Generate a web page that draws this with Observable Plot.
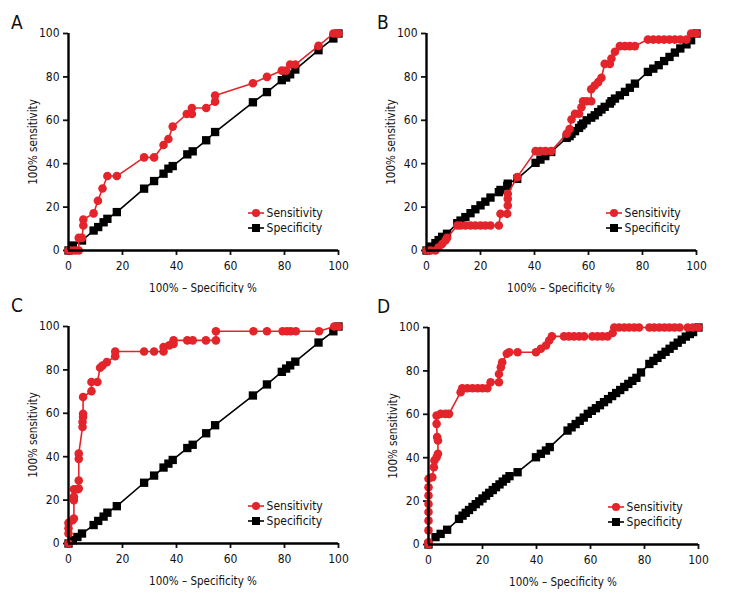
<!DOCTYPE html>
<html><head><meta charset="utf-8">
<script src="https://cdn.jsdelivr.net/npm/d3@7"></script>
<script src="https://cdn.jsdelivr.net/npm/@observablehq/plot@0.6"></script>
<style>
body{margin:0;background:#fff;}
#root{position:relative;width:732px;height:612px;overflow:hidden;font-family:"Liberation Sans Narrow","DejaVu Sans Condensed","Roboto Condensed",Roboto,sans-serif;color:#111;}
.panel{position:absolute;}
.letter{position:absolute;font-size:19px;line-height:19px;}
.ytitle{position:absolute;width:140px;text-align:center;font-size:11.5px;line-height:14px;transform:rotate(-90deg);white-space:nowrap;}
.xtitle{position:absolute;width:270px;text-align:center;font-size:11.5px;line-height:14px;white-space:nowrap;}
.leg{position:absolute;font-size:12px;line-height:14px;white-space:nowrap;display:flex;align-items:center;}
.leg svg{margin-right:3px;}
</style>
</head><body>
<div id="root"></div>
<script>
// ---- Data ----
const panelLabels = ["A", "B", "C", "D"];
const xTicks = [0, 20, 40, 60, 80, 100];
const yTicks = [0, 20, 40, 60, 80, 100];
const xTitle = "100% \u2013 Specificity %";
const yTitle = "100% sensitivity";
const seriesNames = ["Sensitivity", "Specificity"];

// Panel A
const aSensX = [0,1.2,2.5,3.8,3.8,5,5.5,5.5,9.3,10.9,12.6,14.4,17.9,28,31.7,35.2,37,38.6,43.8,45.7,45.7,51,54.3,54.3,68.3,73.5,79,80.6,82.1,84,92.6,98.1,99.4,100];
const aSensY = [0,0,0,0,5.8,5.8,11.5,14.3,17.1,22.9,28.6,34.3,34.3,42.9,42.9,48.6,51.4,57.1,62.9,62.9,65.7,65.7,68.6,71.4,77.1,80,82.9,82.9,85.7,85.7,94.3,100,100,100];
const aSpecX = [0,1.6,5,9.3,11,13,14.4,17.9,28,31.7,35.2,37,38.6,44,46,51,54.3,68.3,73.5,79,80.6,82.1,84,92.6,98.1,100];
const aSpecY = [0,2.3,4.6,9.2,10.8,13,14.6,17.7,28.5,32,35.4,37.7,38.9,44.3,45.7,50.8,54.6,68.3,73,78.5,79.7,81.2,83.4,92.3,97.7,100];

// Panel B
const bSensX = [0,1.5,3.3,4.5,5.8,7,7.6,11.4,12.6,14.4,16.3,18.1,20,21.8,23.7,26.8,27.4,29.9,30.1,30.1,30.1,33.6,40.4,42.2,44,46.2,51.9,53,53.7,55,56.5,57.4,58,59.3,61,61,62.3,63.6,64.8,66,67.9,68.5,69.8,71.6,73.5,75.3,77.2,82,84,86,88,90,92,94,96.3,98,100];
const bSensY = [0,0,0,1.5,3,4.6,5.8,11.5,11.5,11.5,11.5,11.5,11.5,11.5,11.5,11.5,16.9,16.9,20.7,23.8,26.1,33.8,45.8,45.8,45.8,45.8,53.8,56,60.4,63,63,66,68.8,68.8,68.8,74.3,76,77.6,79.6,86,86,88.5,91.6,94.2,94.2,94.2,94.2,97.2,97.2,97.2,97.2,97.2,97.2,97.2,97.2,100,100];
const bSpecX = [0,1.5,3.3,4.5,5.8,7.6,11.4,12.6,14.4,16.3,18.1,20,21.8,23.7,26.8,27.4,29.9,30.1,33.6,40.4,42.2,44,46.2,51.9,53,53.7,55,56.5,57.4,58,59.3,61,62.3,63.6,64.8,66,67.9,68.5,69.8,71.6,73.5,75.3,77.2,82,84,86,88,90,92,94,96.3,98,100];
const bSpecY = [0,1.8,3.4,4.8,6.3,7.7,12.6,13.8,15.4,17.2,19,20.8,22.5,24.4,26.9,27.9,29.7,30.8,33,40.4,41.9,43.5,45.4,51.9,52.7,53.8,55,56.5,57.7,58.5,60,61.2,62.3,63.8,65,66.2,67.7,68.8,70,71.5,73.1,75,76.9,82.3,83.8,85.4,87.3,89.2,91.2,93.1,95,96.9,100];

// Panel C
const cSensX = [0,0,0,0,1.5,2,2,2,2,3.3,3.8,3.8,3.8,3.8,5.2,5.2,5.4,5.4,5.4,8.5,8.5,10.7,11.7,12.6,14.2,17.3,17.3,28,31.7,35.2,35.2,37.3,38.9,38.9,44,46,50.9,54.6,54.6,68.5,73.5,79.3,80.9,82.3,84.2,92.8,98.4,100];
const cSensY = [0,4.6,7,9.5,10.7,11.5,20,21.5,25,25,25.3,29,39,41.4,53.7,56,58.3,59.8,67.5,70.2,74.4,74.4,81,82,83.6,86.3,88.5,88.5,88.5,88.5,90.5,91.3,92,93.6,93.6,93.6,93.6,93.6,97.8,97.8,97.8,97.8,97.8,97.8,97.8,97.8,100,100];
const cSpecX = [0,1.6,3.3,5,9.3,11,13,14.4,17.9,28,31.7,35.2,37,38.6,44,46,51,54.3,68.3,73.5,79,80.6,82.1,84,92.6,98.1,100];
const cSpecY = [0,1.5,3,4.6,8.5,10.4,12.4,14.2,17.2,28,31.3,35,36.8,38.5,44,45.5,50.8,54.5,68.2,73.3,79.1,80.6,82.1,83.8,92.6,97.8,100];

// Panel D
const dSensX = [0,0,0,0,0,0,0,0,0,1.4,2,2.2,3,3.5,3.5,3.2,3,3,4.5,6.3,7.6,11.9,12.5,14.4,16.3,18.2,20,21.8,23,26.1,26.1,26.8,27.3,29,29.9,33,39.8,41.6,43.5,44.7,45.7,50.2,52,53.9,55.8,57.6,60.7,62.6,64.4,66.3,68.2,68.8,70.6,72.5,74.3,76.2,78,81.8,83.6,85.5,87.4,89.2,91.1,93,96,97.9,100];
const dSensY = [0,1,6.5,11,15,18.7,22.6,26.4,30.3,31,35.6,38.7,40.2,41.8,47.9,49.5,55.6,59.4,60.2,60.2,60.2,70.2,72,72,72,72,72,72,74.8,74.8,78.6,81.7,84,87.9,88.6,88.6,88.6,90.2,91.7,94,95.9,95.9,95.9,95.9,95.9,95.9,95.9,95.9,95.9,95.9,97.5,100,100,100,100,100,100,100,100,100,100,100,100,100,100,100,100];
const dSpecX = [0,2.6,4.5,6.9,11.3,12.6,13.8,15,16.3,17.5,18.8,20,21.3,22.5,23.8,25,26.3,27.5,28.8,30,33,39.8,41.6,43.5,44.9,51.5,53,54.5,56,57.5,59,60.5,62,63.5,65,66.5,68,69.5,71,72.5,74,75.5,77,78.7,81.8,83.3,84.8,86.3,87.8,89.3,90.8,92.3,93.8,95.3,96.8,98,100];
const dSpecY = [0,3.4,4.9,6.8,11.8,13.3,14.6,15.9,17.3,18.6,19.9,21.2,22.5,23.8,25.1,26.4,27.7,29,30.3,31.5,33.3,40.2,41.8,43.3,44.9,52.5,54,55.5,57,58.5,60.2,61.6,62.8,64.2,65.6,67,68.4,69.8,71.2,72.6,74,75.4,76.8,79.3,83.2,84.6,86,87.4,88.8,90.2,91.6,93,94.4,95.8,97,97.9,100];

// ---- Layout (px) ----
const panels = [
  {label: panelLabels[0], sx: aSensX, sy: aSensY, kx: aSpecX, ky: aSpecY, left: 0,   top: 0,   ml: 68, mr: 28},
  {label: panelLabels[1], sx: bSensX, sy: bSensY, kx: bSpecX, ky: bSpecY, left: 366, top: 0,   ml: 60, mr: 36},
  {label: panelLabels[2], sx: cSensX, sy: cSensY, kx: cSpecX, ky: cSpecY, left: 0,   top: 293, ml: 68, mr: 28},
  {label: panelLabels[3], sx: dSensX, sy: dSensY, kx: dSpecX, ky: dSpecY, left: 366, top: 294, ml: 62, mr: 34}
];
const RED = "#e3242b";
const MT = 33, MB = 50, H = 300, W = 366;
const root = document.getElementById("root");

function el(cls, html, css) {
  const d = document.createElement("div");
  d.className = cls; d.innerHTML = html;
  Object.assign(d.style, css);
  root.appendChild(d);
  return d;
}

for (const p of panels) {
  const sens = p.sx.map((x, i) => ({x, y: p.sy[i]}));
  const spec = p.kx.map((x, i) => ({x, y: p.ky[i]}));
  const chart = Plot.plot({
    width: W, height: H,
    marginLeft: p.ml, marginRight: p.mr, marginTop: MT, marginBottom: MB,
    style: {fontFamily: "'Liberation Sans Narrow','DejaVu Sans Condensed',Roboto,sans-serif", fontSize: "11.5px", color: "#111", background: "white"},
    x: {domain: [0, 100]},
    y: {domain: [0, 100]},
    marks: [
      Plot.axisX({ticks: xTicks, tickSize: 5, tickPadding: 6, strokeWidth: 1.8, label: null, fontSize: 12}),
      Plot.axisY({ticks: yTicks, tickSize: 5, tickPadding: 4, strokeWidth: 1.8, label: null, fontSize: 12}),
      Plot.line(spec, {x: "x", y: "y", stroke: "#000", strokeWidth: 1.6}),
      Plot.dot(spec, {x: "x", y: "y", symbol: "square", r: 4.7, fill: "#000", stroke: "none"}),
      Plot.line(sens, {x: "x", y: "y", stroke: RED, strokeWidth: 1.6}),
      Plot.dot(sens, {x: "x", y: "y", symbol: "circle", r: 4.3, fill: RED, stroke: "none"}),
      Plot.ruleX([0], {stroke: "#000", strokeWidth: 2.4}),
      Plot.ruleY([0], {stroke: "#000", strokeWidth: 2.4})
    ]
  });
  const wrap = document.createElement("div");
  wrap.className = "panel";
  wrap.style.left = p.left + "px"; wrap.style.top = p.top + "px";
  wrap.appendChild(chart);
  root.appendChild(wrap);

  const plotW = W - p.ml - p.mr;
  const plotH = H - MT - MB;
  // panel letter
  el("letter", p.label, {left: (p.left + 11) + "px", top: (p.top === 0 ? 13 : p.top + 3) + "px"});
  // y title
  el("ytitle", yTitle, {left: (p.left + p.ml - 35 - 70) + "px", top: (p.top + MT + plotH / 2 - 7) + "px"});
  // x title
  el("xtitle", xTitle, {left: (p.left + p.ml) + "px", top: (p.top + MT + plotH + 31) + "px"});
  // legend
  const lx = p.left + p.ml + plotW * 0.665;
  const ly = p.top + MT + plotH * 0.83;
  el("leg", `<svg width="16" height="10"><line x1="0" y1="5" x2="16" y2="5" stroke="${RED}" stroke-width="1.6"/><circle cx="8" cy="5" r="4" fill="${RED}"/></svg>${seriesNames[0]}`, {left: lx + "px", top: (ly - 7) + "px"});
  el("leg", `<svg width="16" height="10"><line x1="0" y1="5" x2="16" y2="5" stroke="#000" stroke-width="1.6"/><rect x="4" y="1" width="8" height="8" fill="#000"/></svg>${seriesNames[1]}`, {left: lx + "px", top: (ly + 8) + "px"});
}
</script>
</body></html>
